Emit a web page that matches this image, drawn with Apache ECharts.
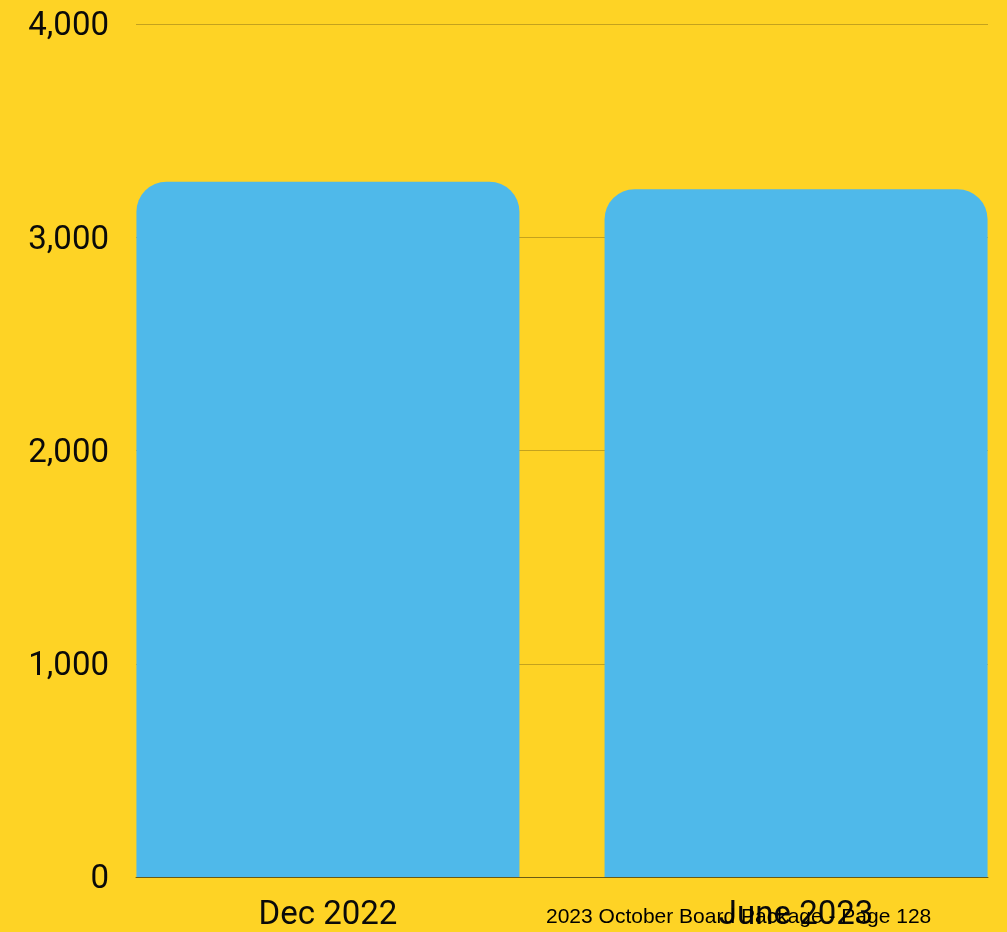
<!DOCTYPE html>
<html>
<head>
<meta charset="utf-8">
<script src="https://cdn.jsdelivr.net/npm/echarts@6/dist/echarts.min.js"></script>
<style>
  html, body { margin: 0; padding: 0; background: #FED325; }
  #chart { width: 1007px; height: 932px; }
</style>
</head>
<body>
<div id="chart"></div>
<script>
// Headcount snapshot by period
const categories = ['Dec 2022', 'June 2023'];
const values = [3260, 3225];
const yTickLabels = ['0', '1,000', '2,000', '3,000', '4,000'];
const footerText = '2023 October Board Package - Page 128';

const chart = echarts.init(document.getElementById('chart'), null, { renderer: 'canvas' });

const labelFont = { fontFamily: 'Roboto', fontSize: 33, color: '#0A0A0A' };

// bars sit on positions 0, 1, ... of a numeric x axis
const barData = values.map((v, i) => [i, v]);

chart.setOption({
  backgroundColor: '#FED325',
  animation: false,
  grid: { left: 136, right: 19, top: 24, bottom: 55 },
  xAxis: {
    type: 'value', min: -0.41, max: 1.41, z: 5,
    axisLine: { show: true, onZero: false, lineStyle: { color: '#6B5A14', width: 1 } },
    axisTick: { show: false },
    splitLine: { show: false },
    axisLabel: Object.assign({
      margin: 22,
      customValues: categories.map((c, i) => i),
      formatter: v => categories[Math.round(v)]
    }, labelFont)
  },
  yAxis: {
    type: 'value', min: 0, max: 4000, interval: 1000,
    axisLine: { show: false }, axisTick: { show: false },
    axisLabel: {
      margin: 27,
      formatter: v => '{t|' + yTickLabels[Math.round(v / 1000)] + '}',
      rich: {
        t: Object.assign({ padding: [6, 0, 0, 0] }, labelFont)
      }
    },
    splitLine: { show: true, lineStyle: { color: '#C4A21E', width: 1 } }
  },
  series: [
    {
      type: 'bar',
      data: barData,
      barWidth: 383,
      itemStyle: { color: '#4FB9EA', borderRadius: [30, 30, 0, 0] }
    }
  ],
  graphic: [
    {
      type: 'text', left: 546, top: 907, z: 100,
      style: { text: footerText, font: '21px "Liberation Sans", Arial, sans-serif', fill: '#000000' }
    }
  ]
});
</script>
</body>
</html>
